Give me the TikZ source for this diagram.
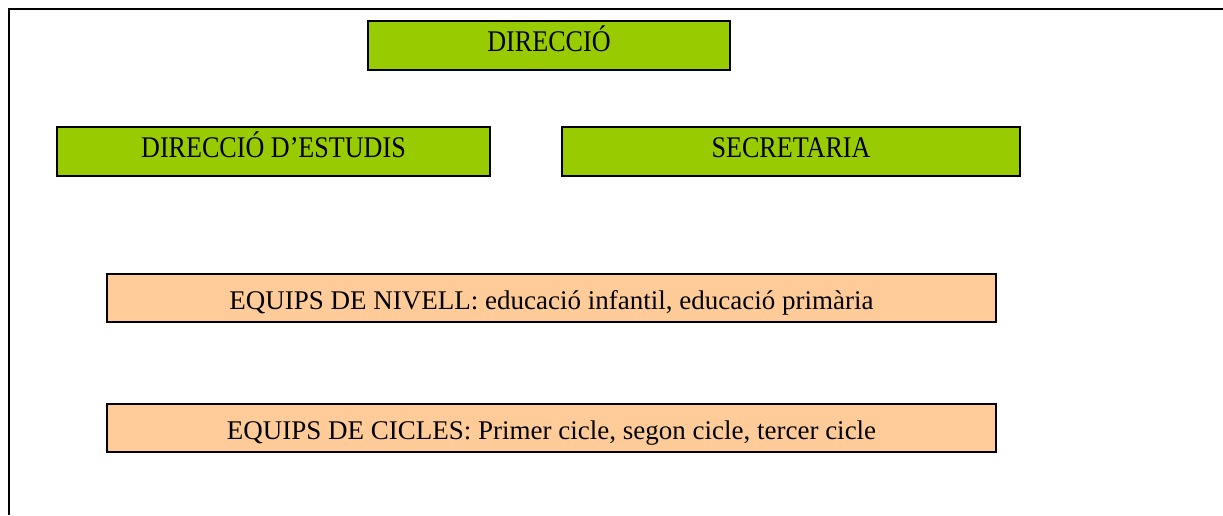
\documentclass[tikz,border=0pt]{standalone}
\usepackage{fontspec}
\setmainfont{Liberation Serif}
\usepackage{graphicx}
\definecolor{boxgreen}{HTML}{99CC00}
\definecolor{boxorange}{HTML}{FFCC99}
\tikzset{
  gbox/.style={draw=black, line width=1.5pt, fill=boxgreen, inner sep=0pt,
    minimum height=36.75pt, text height=8.25pt, text depth=0pt,
    font=\fontsize{22.5pt}{24pt}\selectfont},
  obox/.style={draw=black, line width=1.5pt, fill=boxorange, inner sep=0pt,
    minimum width=666.75pt, minimum height=36pt, text height=17.5pt, text depth=0pt,
    font=\fontsize{20.25pt}{22pt}\selectfont},
  frameline/.style={draw=black, line width=1.6pt}
}
\newcommand{\gtxt}[1]{\scalebox{0.87}[1]{#1}}
\begin{document}
\begin{tikzpicture}[x=0.75pt, y=-0.75pt]
\useasboundingbox (0,0) rectangle (1223,515);
\coordinate (fr) at (1223,9);
\coordinate (fc) at (9,9);
\coordinate (fb) at (9,515);
\draw[frameline] (fr) -- (fc) -- (fb);
\node[gbox, minimum width=271.5pt] (dir) at (549,45.5) {\gtxt{DIRECCIÓ}};
\node[gbox, minimum width=324.75pt] (est) at (273.5,151.5) {\gtxt{DIRECCIÓ D’ESTUDIS}};
\node[gbox, minimum width=343.5pt] (sec) at (791,151.5) {\gtxt{SECRETARIA}};
\node[obox] (niv) at (551.5,298) {EQUIPS DE NIVELL: educació infantil, educació primària};
\node[obox] (cic) at (551.5,427.5) {EQUIPS DE CICLES: Primer cicle, segon cicle, tercer cicle};
\end{tikzpicture}
\end{document}
